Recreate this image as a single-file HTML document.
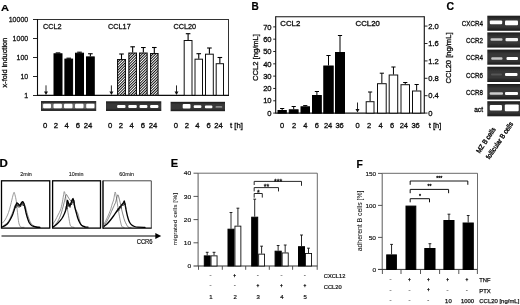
<!DOCTYPE html>
<html><head><meta charset="utf-8"><title>Figure</title>
<style>
html,body{margin:0;padding:0;background:#fff;}
body{width:520px;height:305px;overflow:hidden;}
svg{display:block;font-family:"Liberation Sans",sans-serif;}
</style></head><body>
<svg width="520" height="305" viewBox="0 0 520 305">
<defs>
<pattern id="hatch" width="1.92" height="1.92" patternUnits="userSpaceOnUse" patternTransform="rotate(-45)">
<rect width="1.92" height="1.92" fill="#fff"/><rect width="1.92" height="0.9" fill="#000"/>
</pattern>
<linearGradient id="gg" x1="0" y1="0" x2="0" y2="1"><stop offset="0" stop-color="#1c1c1c"/><stop offset="0.3" stop-color="#383838"/><stop offset="0.7" stop-color="#383838"/><stop offset="1" stop-color="#1c1c1c"/></linearGradient>
<filter id="bl" x="-5%" y="-5%" width="110%" height="110%"><feGaussianBlur stdDeviation="0.35"/></filter>
<filter id="bl2" x="-20%" y="-40%" width="140%" height="180%"><feGaussianBlur stdDeviation="0.55"/></filter>
</defs>
<rect width="520" height="305" fill="#fff"/>
<g filter="url(#bl)">

<text x="1.0" y="10.5" font-size="9.7" text-anchor="start" font-weight="bold" fill="#000" stroke="#000" stroke-width="0.2" textLength="8.0" lengthAdjust="spacingAndGlyphs">A</text>
<line x1="37.5" y1="19.5" x2="229.0" y2="19.5" stroke="#333" stroke-width="1"/>
<line x1="228.5" y1="19.5" x2="228.5" y2="95.3" stroke="#333" stroke-width="1"/>
<line x1="37.5" y1="19.0" x2="37.5" y2="95.3" stroke="#111" stroke-width="1.1"/>
<line x1="37.0" y1="95.3" x2="229.0" y2="95.3" stroke="#111" stroke-width="1.2"/>
<line x1="33.0" y1="19.5" x2="37.5" y2="19.5" stroke="#111" stroke-width="0.9"/>
<text x="28.2" y="22.05" font-size="7.0" text-anchor="end" font-weight="normal" fill="#111" stroke="#111" stroke-width="0.263">10000</text>
<line x1="33.0" y1="38.5" x2="37.5" y2="38.5" stroke="#111" stroke-width="0.9"/>
<text x="28.2" y="41.05" font-size="7.0" text-anchor="end" font-weight="normal" fill="#111" stroke="#111" stroke-width="0.263">1000</text>
<line x1="33.0" y1="57.5" x2="37.5" y2="57.5" stroke="#111" stroke-width="0.9"/>
<text x="28.2" y="60.05" font-size="7.0" text-anchor="end" font-weight="normal" fill="#111" stroke="#111" stroke-width="0.263">100</text>
<line x1="33.0" y1="76.5" x2="37.5" y2="76.5" stroke="#111" stroke-width="0.9"/>
<text x="28.2" y="79.05" font-size="7.0" text-anchor="end" font-weight="normal" fill="#111" stroke="#111" stroke-width="0.263">10</text>
<line x1="33.0" y1="95.5" x2="37.5" y2="95.5" stroke="#111" stroke-width="0.9"/>
<text x="28.2" y="98.05" font-size="7.0" text-anchor="end" font-weight="normal" fill="#111" stroke="#111" stroke-width="0.263">1</text>
<text x="6.9" y="62.6" font-size="7.4" text-anchor="middle" font-weight="normal" fill="#111" stroke="#111" stroke-width="0.305" transform="rotate(-90 6.9 62.6)">x-fold induction</text>
<text x="43.0" y="29.0" font-size="7.3" text-anchor="start" font-weight="normal" fill="#111" stroke="#111" stroke-width="0.294">CCL2</text>
<text x="108.0" y="29.0" font-size="7.3" text-anchor="start" font-weight="normal" fill="#111" stroke="#111" stroke-width="0.294">CCL17</text>
<text x="173.4" y="29.0" font-size="7.3" text-anchor="start" font-weight="normal" fill="#111" stroke="#111" stroke-width="0.294">CCL20</text>
<rect x="54.0" y="53.8" width="8.0" height="41.5" fill="#000" stroke="#000" stroke-width="1"/>
<line x1="58.0" y1="52.9" x2="58.0" y2="53.3" stroke="#000" stroke-width="1.1"/>
<line x1="55.7" y1="52.9" x2="60.3" y2="52.9" stroke="#000" stroke-width="1.1"/>
<rect x="64.9" y="59.1" width="7.699999999999989" height="36.199999999999996" fill="#000" stroke="#000" stroke-width="1"/>
<line x1="68.75" y1="58.2" x2="68.75" y2="58.6" stroke="#000" stroke-width="1.1"/>
<line x1="66.45" y1="58.2" x2="71.05" y2="58.2" stroke="#000" stroke-width="1.1"/>
<rect x="75.5" y="53.2" width="8" height="42.099999999999994" fill="#000" stroke="#000" stroke-width="1"/>
<line x1="79.5" y1="52.2" x2="79.5" y2="52.7" stroke="#000" stroke-width="1.1"/>
<line x1="77.2" y1="52.2" x2="81.8" y2="52.2" stroke="#000" stroke-width="1.1"/>
<rect x="86.5" y="56.9" width="7.75" height="38.4" fill="#000" stroke="#000" stroke-width="1"/>
<line x1="90.375" y1="53.75" x2="90.375" y2="56.4" stroke="#000" stroke-width="1.1"/>
<line x1="88.075" y1="53.75" x2="92.675" y2="53.75" stroke="#000" stroke-width="1.1"/>
<line x1="46" y1="85.4" x2="46" y2="93" stroke="#111" stroke-width="0.9"/>
<polygon points="44,91.5 48,91.5 46,95" fill="#111"/>
</g>
<rect x="117.55" y="59.55" width="7.9" height="35.75" fill="url(#hatch)" stroke="#111" stroke-width="1.1"/>
<g filter="url(#bl)">
<line x1="121.5" y1="54" x2="121.5" y2="59" stroke="#000" stroke-width="1.1"/>
<line x1="119.2" y1="54" x2="123.8" y2="54" stroke="#000" stroke-width="1.1"/>
</g>
<rect x="128.85000000000002" y="53.05" width="7.599999999999989" height="42.25" fill="url(#hatch)" stroke="#111" stroke-width="1.1"/>
<g filter="url(#bl)">
<line x1="132.65" y1="46.8" x2="132.65" y2="52.5" stroke="#000" stroke-width="1.1"/>
<line x1="130.35" y1="46.8" x2="134.95000000000002" y2="46.8" stroke="#000" stroke-width="1.1"/>
</g>
<rect x="139.55" y="53.05" width="7.599999999999989" height="42.25" fill="url(#hatch)" stroke="#111" stroke-width="1.1"/>
<g filter="url(#bl)">
<line x1="143.35" y1="47.5" x2="143.35" y2="52.5" stroke="#000" stroke-width="1.1"/>
<line x1="141.04999999999998" y1="47.5" x2="145.65" y2="47.5" stroke="#000" stroke-width="1.1"/>
</g>
<rect x="150.55" y="53.55" width="7.499999999999995" height="41.75" fill="url(#hatch)" stroke="#111" stroke-width="1.1"/>
<g filter="url(#bl)">
<line x1="154.3" y1="47.5" x2="154.3" y2="53" stroke="#000" stroke-width="1.1"/>
<line x1="152.0" y1="47.5" x2="156.60000000000002" y2="47.5" stroke="#000" stroke-width="1.1"/>
<line x1="111.4" y1="85.4" x2="111.4" y2="93" stroke="#111" stroke-width="0.9"/>
<polygon points="109.4,91.5 113.4,91.5 111.4,95" fill="#111"/>
<rect x="184.2" y="40.5" width="7.800000000000011" height="54.8" fill="#fff" stroke="#111" stroke-width="1"/>
<line x1="188.1" y1="33.7" x2="188.1" y2="40" stroke="#000" stroke-width="1.1"/>
<line x1="185.79999999999998" y1="33.7" x2="190.4" y2="33.7" stroke="#000" stroke-width="1.1"/>
<rect x="195.0" y="59.2" width="7.5" height="36.099999999999994" fill="#fff" stroke="#111" stroke-width="1"/>
<line x1="198.75" y1="53.7" x2="198.75" y2="58.7" stroke="#000" stroke-width="1.1"/>
<line x1="196.45" y1="53.7" x2="201.05" y2="53.7" stroke="#000" stroke-width="1.1"/>
<rect x="205.5" y="54.2" width="7.800000000000011" height="41.099999999999994" fill="#fff" stroke="#111" stroke-width="1"/>
<line x1="209.4" y1="48" x2="209.4" y2="53.7" stroke="#000" stroke-width="1.1"/>
<line x1="207.1" y1="48" x2="211.70000000000002" y2="48" stroke="#000" stroke-width="1.1"/>
<rect x="216.2" y="63.7" width="7.300000000000011" height="31.599999999999994" fill="#fff" stroke="#111" stroke-width="1"/>
<line x1="219.85" y1="57.5" x2="219.85" y2="63.2" stroke="#000" stroke-width="1.1"/>
<line x1="217.54999999999998" y1="57.5" x2="222.15" y2="57.5" stroke="#000" stroke-width="1.1"/>
<line x1="176.5" y1="85.4" x2="176.5" y2="93" stroke="#111" stroke-width="0.9"/>
<polygon points="174.5,91.5 178.5,91.5 176.5,95" fill="#111"/>
<rect x="41" y="101" width="55.2" height="10" fill="#2e2e2e" stroke="none" stroke-width="1"/>
<rect x="41.8" y="103.3" width="53.6" height="5.4" fill="#6c6c6c" filter="url(#bl2)"/>
<rect x="43.1" y="103.8" width="7.899999999999999" height="4.5" rx="1" fill="#fff" filter="url(#bl2)"/>
<rect x="53.5" y="103.8" width="8.399999999999999" height="4.5" rx="1" fill="#fff" filter="url(#bl2)"/>
<rect x="64" y="103.8" width="8.5" height="4.5" rx="1" fill="#fff" filter="url(#bl2)"/>
<rect x="75" y="103.8" width="8.5" height="4.5" rx="1" fill="#fff" filter="url(#bl2)"/>
<rect x="86.2" y="103.8" width="8.200000000000003" height="4.5" rx="1" fill="#fff" filter="url(#bl2)"/>
<rect x="106" y="101.3" width="55.30000000000001" height="9.700000000000003" fill="url(#gg)" stroke="none" stroke-width="1"/>
<rect x="117.1" y="104.9" width="8.400000000000006" height="3.0999999999999943" rx="1" fill="#fff" filter="url(#bl2)"/>
<rect x="128.3" y="104.9" width="8.5" height="3.0999999999999943" rx="1" fill="#fff" filter="url(#bl2)"/>
<rect x="139.5" y="105.1" width="7.900000000000006" height="2.9000000000000057" rx="1" fill="#fff" filter="url(#bl2)"/>
<rect x="150.1" y="104.9" width="8.300000000000011" height="3.0999999999999943" rx="1" fill="#fff" filter="url(#bl2)"/>
<rect x="170.6" y="101.8" width="54.400000000000006" height="9.400000000000006" fill="url(#gg)" stroke="none" stroke-width="1"/>
<rect x="182.7" y="104.0" width="7.800000000000011" height="4.5" rx="1" fill="#fff" filter="url(#bl2)"/>
<rect x="193.7" y="105.2" width="7.700000000000017" height="2.8999999999999915" rx="1" fill="#fff" filter="url(#bl2)"/>
<rect x="204.9" y="105.4" width="7.5" height="2.8999999999999915" rx="1" fill="#fff" filter="url(#bl2)"/>
<rect x="215.5" y="106.0" width="6.800000000000011" height="1.7999999999999972" rx="1" fill="#888" filter="url(#bl2)"/>
<text x="45.1" y="127.8" font-size="7.7" text-anchor="middle" font-weight="normal" fill="#111" stroke="#111" stroke-width="0.336">0</text>
<text x="56" y="127.8" font-size="7.7" text-anchor="middle" font-weight="normal" fill="#111" stroke="#111" stroke-width="0.336">2</text>
<text x="66.7" y="127.8" font-size="7.7" text-anchor="middle" font-weight="normal" fill="#111" stroke="#111" stroke-width="0.336">4</text>
<text x="78" y="127.8" font-size="7.7" text-anchor="middle" font-weight="normal" fill="#111" stroke="#111" stroke-width="0.336">6</text>
<text x="88" y="127.8" font-size="7.7" text-anchor="middle" font-weight="normal" fill="#111" stroke="#111" stroke-width="0.336">24</text>
<text x="110.1" y="127.8" font-size="7.7" text-anchor="middle" font-weight="normal" fill="#111" stroke="#111" stroke-width="0.336">0</text>
<text x="121" y="127.8" font-size="7.7" text-anchor="middle" font-weight="normal" fill="#111" stroke="#111" stroke-width="0.336">2</text>
<text x="131.7" y="127.8" font-size="7.7" text-anchor="middle" font-weight="normal" fill="#111" stroke="#111" stroke-width="0.336">4</text>
<text x="143" y="127.8" font-size="7.7" text-anchor="middle" font-weight="normal" fill="#111" stroke="#111" stroke-width="0.336">6</text>
<text x="153" y="127.8" font-size="7.7" text-anchor="middle" font-weight="normal" fill="#111" stroke="#111" stroke-width="0.336">24</text>
<text x="175.9" y="127.8" font-size="7.7" text-anchor="middle" font-weight="normal" fill="#111" stroke="#111" stroke-width="0.336">0</text>
<text x="186.9" y="127.8" font-size="7.7" text-anchor="middle" font-weight="normal" fill="#111" stroke="#111" stroke-width="0.336">2</text>
<text x="197.5" y="127.8" font-size="7.7" text-anchor="middle" font-weight="normal" fill="#111" stroke="#111" stroke-width="0.336">4</text>
<text x="208.6" y="127.8" font-size="7.7" text-anchor="middle" font-weight="normal" fill="#111" stroke="#111" stroke-width="0.336">6</text>
<text x="218.6" y="127.8" font-size="7.7" text-anchor="middle" font-weight="normal" fill="#111" stroke="#111" stroke-width="0.336">24</text>
<text x="230" y="127.8" font-size="7.7" text-anchor="start" font-weight="normal" fill="#111" stroke="#111" stroke-width="0.336">t [h]</text>
<text x="251.6" y="10.2" font-size="10" text-anchor="start" font-weight="bold" fill="#000" stroke="#000" stroke-width="0.2">B</text>
<line x1="275.7" y1="16.7" x2="424.3" y2="16.7" stroke="#111" stroke-width="1.1"/>
<line x1="275.7" y1="16.2" x2="275.7" y2="113.1" stroke="#111" stroke-width="1.1"/>
<line x1="424.3" y1="16.2" x2="424.3" y2="113.1" stroke="#111" stroke-width="1.1"/>
<line x1="275.2" y1="113.1" x2="424.8" y2="113.1" stroke="#111" stroke-width="1.2"/>
<line x1="273.2" y1="113.1" x2="275.7" y2="113.1" stroke="#111" stroke-width="0.9"/>
<text x="271.6" y="115.8" font-size="7.6" text-anchor="end" font-weight="normal" fill="#111" stroke="#111" stroke-width="0.325">0</text>
<line x1="273.2" y1="100.78" x2="275.7" y2="100.78" stroke="#111" stroke-width="0.9"/>
<text x="271.6" y="103.48" font-size="7.6" text-anchor="end" font-weight="normal" fill="#111" stroke="#111" stroke-width="0.325">10</text>
<line x1="273.2" y1="88.46" x2="275.7" y2="88.46" stroke="#111" stroke-width="0.9"/>
<text x="271.6" y="91.16" font-size="7.6" text-anchor="end" font-weight="normal" fill="#111" stroke="#111" stroke-width="0.325">20</text>
<line x1="273.2" y1="76.13999999999999" x2="275.7" y2="76.13999999999999" stroke="#111" stroke-width="0.9"/>
<text x="271.6" y="78.83999999999999" font-size="7.6" text-anchor="end" font-weight="normal" fill="#111" stroke="#111" stroke-width="0.325">30</text>
<line x1="273.2" y1="63.81999999999999" x2="275.7" y2="63.81999999999999" stroke="#111" stroke-width="0.9"/>
<text x="271.6" y="66.52" font-size="7.6" text-anchor="end" font-weight="normal" fill="#111" stroke="#111" stroke-width="0.325">40</text>
<line x1="273.2" y1="51.49999999999999" x2="275.7" y2="51.49999999999999" stroke="#111" stroke-width="0.9"/>
<text x="271.6" y="54.199999999999996" font-size="7.6" text-anchor="end" font-weight="normal" fill="#111" stroke="#111" stroke-width="0.325">50</text>
<line x1="273.2" y1="39.17999999999999" x2="275.7" y2="39.17999999999999" stroke="#111" stroke-width="0.9"/>
<text x="271.6" y="41.879999999999995" font-size="7.6" text-anchor="end" font-weight="normal" fill="#111" stroke="#111" stroke-width="0.325">60</text>
<line x1="273.2" y1="26.859999999999985" x2="275.7" y2="26.859999999999985" stroke="#111" stroke-width="0.9"/>
<text x="271.6" y="29.559999999999985" font-size="7.6" text-anchor="end" font-weight="normal" fill="#111" stroke="#111" stroke-width="0.325">70</text>
<line x1="424.3" y1="113.1" x2="427.5" y2="113.1" stroke="#111" stroke-width="0.9"/>
<text x="428.2" y="115.8" font-size="7.6" text-anchor="start" font-weight="normal" fill="#111" stroke="#111" stroke-width="0.325">0</text>
<line x1="424.3" y1="95.69999999999999" x2="427.5" y2="95.69999999999999" stroke="#111" stroke-width="0.9"/>
<text x="428.2" y="98.39999999999999" font-size="7.6" text-anchor="start" font-weight="normal" fill="#111" stroke="#111" stroke-width="0.325">0.4</text>
<line x1="424.3" y1="78.3" x2="427.5" y2="78.3" stroke="#111" stroke-width="0.9"/>
<text x="428.2" y="81.0" font-size="7.6" text-anchor="start" font-weight="normal" fill="#111" stroke="#111" stroke-width="0.325">0.8</text>
<line x1="424.3" y1="60.9" x2="427.5" y2="60.9" stroke="#111" stroke-width="0.9"/>
<text x="428.2" y="63.6" font-size="7.6" text-anchor="start" font-weight="normal" fill="#111" stroke="#111" stroke-width="0.325">1.2</text>
<line x1="424.3" y1="43.5" x2="427.5" y2="43.5" stroke="#111" stroke-width="0.9"/>
<text x="428.2" y="46.2" font-size="7.6" text-anchor="start" font-weight="normal" fill="#111" stroke="#111" stroke-width="0.325">1.6</text>
<line x1="424.3" y1="26.099999999999994" x2="427.5" y2="26.099999999999994" stroke="#111" stroke-width="0.9"/>
<text x="428.2" y="28.799999999999994" font-size="7.6" text-anchor="start" font-weight="normal" fill="#111" stroke="#111" stroke-width="0.325">2.0</text>
<text x="257.7" y="57.5" font-size="7.6" text-anchor="middle" font-weight="normal" fill="#111" stroke="#111" stroke-width="0.325" transform="rotate(-90 257.7 57.5)">CCL2 [ng/mL]</text>
<text x="451.2" y="58" font-size="7.6" text-anchor="middle" font-weight="normal" fill="#111" stroke="#111" stroke-width="0.325" transform="rotate(-90 451.2 58)">CCL20 [ng/mL]</text>
<text x="280.3" y="26.3" font-size="7.8" text-anchor="start" font-weight="normal" fill="#111" stroke="#111" stroke-width="0.346">CCL2</text>
<text x="355.6" y="26.3" font-size="7.8" text-anchor="start" font-weight="normal" fill="#111" stroke="#111" stroke-width="0.346">CCL20</text>
<rect x="278.0" y="110.5" width="8.300000000000011" height="2.5999999999999943" fill="#000" stroke="#000" stroke-width="1"/>
<line x1="282.15" y1="108.5" x2="282.15" y2="110" stroke="#000" stroke-width="1.0"/>
<line x1="280.04999999999995" y1="108.5" x2="284.25" y2="108.5" stroke="#000" stroke-width="1.0"/>
<rect x="289.3" y="109.8" width="8.800000000000011" height="3.299999999999997" fill="#000" stroke="#000" stroke-width="1"/>
<line x1="293.70000000000005" y1="106.5" x2="293.70000000000005" y2="109.3" stroke="#000" stroke-width="1.0"/>
<line x1="291.6" y1="106.5" x2="295.80000000000007" y2="106.5" stroke="#000" stroke-width="1.0"/>
<rect x="301.0" y="106.8" width="8.5" height="6.299999999999997" fill="#000" stroke="#000" stroke-width="1"/>
<line x1="305.25" y1="105.6" x2="305.25" y2="106.3" stroke="#000" stroke-width="1.0"/>
<line x1="303.15" y1="105.6" x2="307.35" y2="105.6" stroke="#000" stroke-width="1.0"/>
<rect x="312.5" y="95.5" width="8.800000000000011" height="17.599999999999994" fill="#000" stroke="#000" stroke-width="1"/>
<line x1="316.9" y1="91.5" x2="316.9" y2="95" stroke="#000" stroke-width="1.0"/>
<line x1="314.79999999999995" y1="91.5" x2="319.0" y2="91.5" stroke="#000" stroke-width="1.0"/>
<rect x="323.8" y="66.0" width="9.399999999999977" height="47.099999999999994" fill="#000" stroke="#000" stroke-width="1"/>
<line x1="328.5" y1="55.5" x2="328.5" y2="65.5" stroke="#000" stroke-width="1.0"/>
<line x1="326.4" y1="55.5" x2="330.6" y2="55.5" stroke="#000" stroke-width="1.0"/>
<rect x="335.5" y="52.5" width="9" height="60.599999999999994" fill="#000" stroke="#000" stroke-width="1"/>
<line x1="340.0" y1="35.5" x2="340.0" y2="52" stroke="#000" stroke-width="1.0"/>
<line x1="337.9" y1="35.5" x2="342.1" y2="35.5" stroke="#000" stroke-width="1.0"/>
<line x1="357.5" y1="102.5" x2="357.5" y2="110.5" stroke="#111" stroke-width="0.9"/>
<polygon points="355.5,109.0 359.5,109.0 357.5,112.5" fill="#111"/>
<rect x="366.2" y="101.7" width="7.800000000000011" height="11.399999999999991" fill="#fff" stroke="#111" stroke-width="1"/>
<line x1="370.1" y1="92" x2="370.1" y2="101.2" stroke="#000" stroke-width="1.0"/>
<line x1="368.0" y1="92" x2="372.20000000000005" y2="92" stroke="#000" stroke-width="1.0"/>
<rect x="377.5" y="83.7" width="8.699999999999989" height="29.39999999999999" fill="#fff" stroke="#111" stroke-width="1"/>
<line x1="381.85" y1="73.2" x2="381.85" y2="83.2" stroke="#000" stroke-width="1.0"/>
<line x1="379.75" y1="73.2" x2="383.95000000000005" y2="73.2" stroke="#000" stroke-width="1.0"/>
<rect x="389.2" y="75.0" width="8.5" height="38.099999999999994" fill="#fff" stroke="#111" stroke-width="1"/>
<line x1="393.45" y1="67" x2="393.45" y2="74.5" stroke="#000" stroke-width="1.0"/>
<line x1="391.34999999999997" y1="67" x2="395.55" y2="67" stroke="#000" stroke-width="1.0"/>
<rect x="401.0" y="84.7" width="8.5" height="28.39999999999999" fill="#fff" stroke="#111" stroke-width="1"/>
<line x1="405.25" y1="82.5" x2="405.25" y2="84.2" stroke="#000" stroke-width="1.0"/>
<line x1="403.15" y1="82.5" x2="407.35" y2="82.5" stroke="#000" stroke-width="1.0"/>
<rect x="412.5" y="91.0" width="8.300000000000011" height="22.099999999999994" fill="#fff" stroke="#111" stroke-width="1"/>
<line x1="416.65" y1="84.5" x2="416.65" y2="90.5" stroke="#000" stroke-width="1.0"/>
<line x1="414.54999999999995" y1="84.5" x2="418.75" y2="84.5" stroke="#000" stroke-width="1.0"/>
<text x="282.2" y="127.6" font-size="7.5" text-anchor="middle" font-weight="normal" fill="#111" stroke="#111" stroke-width="0.315">0</text>
<text x="294" y="127.6" font-size="7.5" text-anchor="middle" font-weight="normal" fill="#111" stroke="#111" stroke-width="0.315">2</text>
<text x="305.3" y="127.6" font-size="7.5" text-anchor="middle" font-weight="normal" fill="#111" stroke="#111" stroke-width="0.315">4</text>
<text x="316.9" y="127.6" font-size="7.5" text-anchor="middle" font-weight="normal" fill="#111" stroke="#111" stroke-width="0.315">6</text>
<text x="328.1" y="127.6" font-size="7.5" text-anchor="middle" font-weight="normal" fill="#111" stroke="#111" stroke-width="0.315">24</text>
<text x="339.6" y="127.6" font-size="7.5" text-anchor="middle" font-weight="normal" fill="#111" stroke="#111" stroke-width="0.315">36</text>
<text x="357.7" y="127.6" font-size="7.5" text-anchor="middle" font-weight="normal" fill="#111" stroke="#111" stroke-width="0.315">0</text>
<text x="369.2" y="127.6" font-size="7.5" text-anchor="middle" font-weight="normal" fill="#111" stroke="#111" stroke-width="0.315">2</text>
<text x="380.6" y="127.6" font-size="7.5" text-anchor="middle" font-weight="normal" fill="#111" stroke="#111" stroke-width="0.315">4</text>
<text x="392.2" y="127.6" font-size="7.5" text-anchor="middle" font-weight="normal" fill="#111" stroke="#111" stroke-width="0.315">6</text>
<text x="403.8" y="127.6" font-size="7.5" text-anchor="middle" font-weight="normal" fill="#111" stroke="#111" stroke-width="0.315">24</text>
<text x="415.6" y="127.6" font-size="7.5" text-anchor="middle" font-weight="normal" fill="#111" stroke="#111" stroke-width="0.315">36</text>
<text x="428.8" y="127.6" font-size="7.5" text-anchor="start" font-weight="normal" fill="#111" stroke="#111" stroke-width="0.315">t [h]</text>
<text x="446.4" y="10.2" font-size="10" text-anchor="start" font-weight="bold" fill="#000" stroke="#000" stroke-width="0.2" textLength="7.6" lengthAdjust="spacingAndGlyphs">C</text>
<rect x="487.3" y="15.7" width="33" height="15.100000000000001" fill="url(#gg)" stroke="none" stroke-width="1"/>
<text x="483.0" y="26.45" font-size="6.7" text-anchor="end" font-weight="normal" fill="#111" stroke="#111" stroke-width="0.3" textLength="21.2" lengthAdjust="spacingAndGlyphs">CXCR4</text>
<rect x="489.8" y="20.6" width="12.399999999999977" height="3.599999999999998" rx="1" fill="#fff" filter="url(#bl2)"/>
<rect x="505" y="20.5" width="13" height="4.699999999999999" rx="1" fill="#fff" filter="url(#bl2)"/>
<rect x="487.3" y="32.4" width="33" height="15.200000000000003" fill="url(#gg)" stroke="none" stroke-width="1"/>
<text x="483.0" y="43.2" font-size="6.7" text-anchor="end" font-weight="normal" fill="#111" stroke="#111" stroke-width="0.3" textLength="17.0" lengthAdjust="spacingAndGlyphs">CCR2</text>
<rect x="490.5" y="38.2" width="12.0" height="2.5999999999999943" rx="1" fill="#c8c8c8" filter="url(#bl2)"/>
<rect x="505.5" y="38.0" width="12.5" height="3.200000000000003" rx="1" fill="#f4f4f4" filter="url(#bl2)"/>
<rect x="487.3" y="49.6" width="33" height="15.100000000000001" fill="url(#gg)" stroke="none" stroke-width="1"/>
<text x="483.0" y="60.35000000000001" font-size="6.7" text-anchor="end" font-weight="normal" fill="#111" stroke="#111" stroke-width="0.3" textLength="17.0" lengthAdjust="spacingAndGlyphs">CCR4</text>
<rect x="491.2" y="57.3" width="11.300000000000011" height="2.5" rx="1" fill="#c4c4c4" filter="url(#bl2)"/>
<rect x="506.5" y="57.0" width="11.5" height="3.0" rx="1" fill="#fff" filter="url(#bl2)"/>
<rect x="487.3" y="66.7" width="33" height="15.299999999999997" fill="url(#gg)" stroke="none" stroke-width="1"/>
<text x="483.0" y="77.55" font-size="6.7" text-anchor="end" font-weight="normal" fill="#111" stroke="#111" stroke-width="0.3" textLength="17.0" lengthAdjust="spacingAndGlyphs">CCR6</text>
<rect x="491" y="73.6" width="11" height="1.8000000000000114" rx="1" fill="#555" filter="url(#bl2)"/>
<rect x="505" y="73.0" width="12.5" height="3.0" rx="1" fill="#fff" filter="url(#bl2)"/>
<rect x="487.3" y="84" width="33" height="15.5" fill="url(#gg)" stroke="none" stroke-width="1"/>
<text x="483.0" y="94.95" font-size="6.7" text-anchor="end" font-weight="normal" fill="#111" stroke="#111" stroke-width="0.3" textLength="17.0" lengthAdjust="spacingAndGlyphs">CCR8</text>
<rect x="489.6" y="92.2" width="13.399999999999977" height="2.5999999999999943" rx="1" fill="#ccc" filter="url(#bl2)"/>
<rect x="505" y="91.9" width="13" height="3.1999999999999886" rx="1" fill="#fff" filter="url(#bl2)"/>
<rect x="487.3" y="101.2" width="33" height="15.099999999999994" fill="url(#gg)" stroke="none" stroke-width="1"/>
<text x="483.0" y="111.95" font-size="6.7" text-anchor="end" font-weight="normal" fill="#111" stroke="#111" stroke-width="0.3" textLength="8.8" lengthAdjust="spacingAndGlyphs">act</text>
<rect x="489.8" y="105.0" width="12.199999999999989" height="5.400000000000006" rx="1" fill="#fff" filter="url(#bl2)"/>
<rect x="504.8" y="104.5" width="13.900000000000034" height="6.799999999999997" rx="1" fill="#fff" filter="url(#bl2)"/>
<text x="496.0" y="129.5" font-size="7.0" text-anchor="end" font-weight="normal" fill="#111" stroke="#111" stroke-width="0.4" textLength="29.2" lengthAdjust="spacingAndGlyphs" transform="rotate(-56 496.0 129.5)">MZ B cells</text>
<text x="513.6" y="124.0" font-size="7.0" text-anchor="end" font-weight="normal" fill="#111" stroke="#111" stroke-width="0.4" textLength="43" lengthAdjust="spacingAndGlyphs" transform="rotate(-56 513.6 124.0)">follicular B cells</text>
<text x="-0.4" y="166.9" font-size="10.1" text-anchor="start" font-weight="bold" fill="#000" stroke="#000" stroke-width="0.2" textLength="8.3" lengthAdjust="spacingAndGlyphs">D</text>
<path d="M2.50,223.00 C2.88,222.55 4.25,221.20 5.00,220.00 C5.75,218.80 6.84,216.55 7.50,215.00 C8.16,213.45 8.84,211.57 9.40,209.70 C9.96,207.82 10.74,204.56 11.25,202.50 C11.76,200.44 12.39,197.53 12.80,196.00 C13.21,194.47 13.67,192.45 14.00,192.30 C14.33,192.15 14.66,193.69 15.00,195.00 C15.34,196.31 15.88,198.38 16.25,201.00 C16.62,203.62 17.12,209.28 17.50,212.50 C17.88,215.72 18.29,220.34 18.75,222.50 C19.21,224.66 19.81,226.18 20.60,226.90 C21.39,227.62 23.49,227.24 24.00,227.30" fill="none" stroke="#777" stroke-width="0.75" stroke-linejoin="round" stroke-linecap="round"/>
<path d="M3.00,226.00 C3.75,225.40 6.65,223.80 8.00,222.00 C9.35,220.20 10.95,216.40 12.00,214.00 C13.05,211.60 14.18,207.57 15.00,206.00 C15.82,204.43 16.82,203.50 17.50,203.50 C18.18,203.50 18.90,206.00 19.50,206.00 C20.10,206.00 20.93,204.10 21.50,203.50 C22.07,202.90 22.70,201.47 23.30,202.00 C23.90,202.53 24.87,205.12 25.50,207.00 C26.13,208.88 26.82,212.32 27.50,214.50 C28.18,216.68 29.18,219.85 30.00,221.50 C30.82,223.15 31.80,224.65 33.00,225.50 C34.20,226.35 37.25,226.94 38.00,227.20" fill="none" stroke="#444" stroke-width="0.65" stroke-linejoin="round" stroke-linecap="round"/>
<path d="M2.50,226.90 C2.88,226.71 4.25,226.07 5.00,225.60 C5.75,225.13 6.75,224.59 7.50,223.75 C8.25,222.91 9.25,221.31 10.00,220.00 C10.75,218.69 11.87,216.50 12.50,215.00 C13.13,213.50 13.73,211.35 14.20,210.00 C14.66,208.65 15.20,207.06 15.60,206.00 C16.00,204.94 16.46,203.17 16.90,202.90 C17.33,202.63 18.04,203.82 18.50,204.20 C18.96,204.57 19.58,205.58 20.00,205.40 C20.42,205.22 20.89,203.57 21.30,203.00 C21.71,202.43 22.29,201.45 22.70,201.60 C23.11,201.75 23.66,203.04 24.00,204.00 C24.34,204.96 24.66,206.54 25.00,208.00 C25.34,209.46 25.83,212.10 26.25,213.75 C26.67,215.40 27.33,217.61 27.80,219.00 C28.27,220.39 28.77,221.98 29.40,223.00 C30.03,224.02 31.01,225.20 32.00,225.80 C32.99,226.40 34.80,226.78 36.00,227.00 C37.20,227.22 39.40,227.25 40.00,227.30" fill="none" stroke="#000" stroke-width="1.3" stroke-linejoin="round" stroke-linecap="round"/>
<polyline points="14.5,209 15.2,205.5 15.9,208 16.6,203.5 17.4,206.5 18.2,203.8 19,207.5 19.8,204.5 20.6,207 21.3,203 22,205.5 22.8,202.2 23.5,206 24.2,204.5 24.8,208.5" fill="none" stroke="#111" stroke-width="0.7" stroke-linejoin="round"/>
<rect x="1.5" y="180.8" width="48.25" height="47.29999999999998" fill="none" stroke="#000" stroke-width="1.3"/>
<text x="26" y="176.2" font-size="5.4" text-anchor="middle" font-weight="normal" fill="#111" stroke="#111" stroke-width="0.095">2min</text>
<path d="M53.00,224.00 C53.38,223.40 54.75,221.35 55.50,220.00 C56.25,218.65 57.25,216.50 58.00,215.00 C58.75,213.50 59.87,211.80 60.50,210.00 C61.13,208.20 61.77,205.10 62.20,203.00 C62.64,200.90 63.09,197.71 63.40,196.00 C63.71,194.29 63.97,191.75 64.25,191.60 C64.53,191.45 64.96,193.29 65.30,195.00 C65.64,196.71 66.09,200.38 66.50,203.00 C66.91,205.62 67.49,209.39 68.00,212.50 C68.51,215.61 69.44,221.65 69.90,223.75 C70.37,225.85 70.48,225.97 71.10,226.50 C71.71,227.03 73.56,227.18 74.00,227.30" fill="none" stroke="#777" stroke-width="0.75" stroke-linejoin="round" stroke-linecap="round"/>
<path d="M54.00,226.00 C54.60,225.25 56.95,222.80 58.00,221.00 C59.05,219.20 60.17,216.40 61.00,214.00 C61.83,211.60 62.83,207.55 63.50,205.00 C64.17,202.45 65.05,198.57 65.50,197.00 C65.95,195.43 66.12,194.50 66.50,194.50 C66.88,194.50 67.47,196.18 68.00,197.00 C68.53,197.82 69.40,199.25 70.00,200.00 C70.60,200.75 71.40,201.25 72.00,202.00 C72.60,202.75 73.40,203.80 74.00,205.00 C74.60,206.20 75.40,208.65 76.00,210.00 C76.60,211.35 77.47,212.50 78.00,214.00 C78.53,215.50 78.97,218.35 79.50,220.00 C80.03,221.65 80.67,223.92 81.50,225.00 C82.33,226.08 84.47,226.87 85.00,227.20" fill="none" stroke="#444" stroke-width="0.65" stroke-linejoin="round" stroke-linecap="round"/>
<path d="M53.00,227.00 C53.19,226.89 53.50,226.85 54.25,226.25 C55.00,225.65 56.88,224.12 58.00,223.00 C59.12,221.88 60.77,220.18 61.75,218.75 C62.73,217.32 63.86,214.96 64.50,213.50 C65.14,212.04 65.64,210.43 66.00,209.00 C66.36,207.57 66.69,205.29 66.90,204.00 C67.11,202.71 67.16,200.55 67.40,200.40 C67.64,200.25 68.14,202.16 68.50,203.00 C68.86,203.84 69.35,206.22 69.80,206.00 C70.25,205.78 71.02,202.62 71.50,201.50 C71.98,200.38 72.62,198.43 73.00,198.50 C73.38,198.57 73.72,200.65 74.00,202.00 C74.28,203.35 74.53,205.78 74.90,207.50 C75.28,209.22 76.03,211.81 76.50,213.50 C76.97,215.19 77.50,217.35 78.00,218.75 C78.50,220.15 79.24,221.77 79.80,222.80 C80.36,223.83 80.97,225.00 81.75,225.60 C82.53,226.20 84.06,226.56 85.00,226.80 C85.94,227.04 87.55,227.14 88.00,227.20" fill="none" stroke="#000" stroke-width="1.3" stroke-linejoin="round" stroke-linecap="round"/>
<polyline points="65.5,211 66.3,206 67,209 67.6,202 68.4,206.5 69.2,203.5 70,207.5 70.8,203 71.6,205 72.4,200 73.2,203 74,200.5 74.6,205.5" fill="none" stroke="#111" stroke-width="0.7" stroke-linejoin="round"/>
<rect x="52.6" y="180.8" width="47.9" height="47.29999999999998" fill="none" stroke="#000" stroke-width="1.3"/>
<text x="76.2" y="176.2" font-size="5.4" text-anchor="middle" font-weight="normal" fill="#111" stroke="#111" stroke-width="0.095">10min</text>
<path d="M104.00,224.00 C104.22,223.59 104.90,222.45 105.50,221.25 C106.10,220.05 107.25,217.69 108.00,216.00 C108.75,214.31 109.87,211.80 110.50,210.00 C111.13,208.20 111.73,205.50 112.20,204.00 C112.67,202.50 113.25,201.35 113.60,200.00 C113.94,198.65 114.25,196.20 114.50,195.00 C114.75,193.80 115.00,191.85 115.25,192.00 C115.50,192.15 115.94,194.65 116.20,196.00 C116.46,197.35 116.73,199.28 117.00,201.00 C117.27,202.72 117.56,204.84 118.00,207.50 C118.44,210.16 119.34,215.94 119.90,218.75 C120.46,221.56 121.14,224.97 121.75,226.25 C122.36,227.53 123.66,227.14 124.00,227.30" fill="none" stroke="#777" stroke-width="0.75" stroke-linejoin="round" stroke-linecap="round"/>
<path d="M104.00,226.00 C104.45,225.25 106.10,222.65 107.00,221.00 C107.90,219.35 109.10,216.95 110.00,215.00 C110.90,213.05 112.17,209.88 113.00,208.00 C113.83,206.12 114.90,204.15 115.50,202.50 C116.10,200.85 116.62,198.16 117.00,197.00 C117.38,195.84 117.70,194.60 118.00,194.75 C118.30,194.90 118.62,196.61 119.00,198.00 C119.38,199.39 120.09,202.20 120.50,204.00 C120.91,205.80 121.33,208.20 121.75,210.00 C122.17,211.80 122.83,214.31 123.30,216.00 C123.77,217.69 124.20,219.62 124.90,221.25 C125.61,222.88 127.09,225.99 128.00,226.90 C128.91,227.81 130.55,227.24 131.00,227.30" fill="none" stroke="#444" stroke-width="0.65" stroke-linejoin="round" stroke-linecap="round"/>
<path d="M104.25,226.25 C104.66,225.91 106.06,224.94 107.00,224.00 C107.94,223.06 109.53,221.20 110.50,220.00 C111.47,218.80 112.56,217.31 113.50,216.00 C114.44,214.69 115.78,212.60 116.75,211.25 C117.72,209.90 118.97,208.31 120.00,207.00 C121.03,205.69 122.96,203.40 123.60,202.50 C124.24,201.60 124.04,200.78 124.25,201.00 C124.46,201.22 124.72,202.65 125.00,204.00 C125.28,205.35 125.75,208.28 126.10,210.00 C126.44,211.72 126.92,214.00 127.30,215.50 C127.67,217.00 128.19,218.88 128.60,220.00 C129.00,221.12 129.53,222.25 130.00,223.00 C130.47,223.75 131.07,224.47 131.75,225.00 C132.43,225.53 133.56,226.17 134.50,226.50 C135.44,226.83 136.43,227.06 138.00,227.20 C139.57,227.33 143.95,227.37 145.00,227.40" fill="none" stroke="#000" stroke-width="1.3" stroke-linejoin="round" stroke-linecap="round"/>
<polyline points="117,212 118,208.5 119,210.5 120,206 121,208.5 122,204 123,206 123.8,201.8 124.6,205 125.3,203.5 125.9,209" fill="none" stroke="#111" stroke-width="0.7" stroke-linejoin="round"/>
<line x1="103.0" y1="180.4" x2="103.0" y2="228.75" stroke="#000" stroke-width="1.4"/>
<line x1="103.0" y1="228.1" x2="151.70000000000002" y2="228.1" stroke="#000" stroke-width="1.3"/>
<line x1="103.0" y1="180.8" x2="151.3" y2="180.8" stroke="#333" stroke-width="0.9"/>
<line x1="151.3" y1="180.8" x2="151.3" y2="228.1" stroke="#333" stroke-width="0.9"/>
<text x="126.7" y="176.2" font-size="5.4" text-anchor="middle" font-weight="normal" fill="#111" stroke="#111" stroke-width="0.095">60min</text>
<line x1="1.5" y1="236.0" x2="156" y2="236.0" stroke="#000" stroke-width="1.2"/>
<polygon points="155.3,233 161.2,236 155.3,239" fill="#000"/>
<text x="136.7" y="243.8" font-size="6.4" text-anchor="start" font-weight="normal" fill="#111" stroke="#111" stroke-width="0.2" textLength="15.9" lengthAdjust="spacingAndGlyphs">CCR6</text>
<text x="170.8" y="167.4" font-size="10.3" text-anchor="start" font-weight="bold" fill="#000" stroke="#000" stroke-width="0.2" textLength="7.4" lengthAdjust="spacingAndGlyphs">E</text>
<line x1="198.1" y1="173.2" x2="317.3" y2="173.2" stroke="#5a5a5a" stroke-width="0.9"/>
<line x1="317.3" y1="173.2" x2="317.3" y2="266.0" stroke="#5a5a5a" stroke-width="0.9"/>
<line x1="198.1" y1="173.2" x2="198.1" y2="266.0" stroke="#5a5a5a" stroke-width="1.0"/>
<line x1="193.5" y1="266.0" x2="317.3" y2="266.0" stroke="#333" stroke-width="1.0"/>
<text x="191.2" y="268.2" font-size="6.0" text-anchor="end" font-weight="normal" fill="#111" stroke="#111" stroke-width="0.158" textLength="3.7" lengthAdjust="spacingAndGlyphs">0</text>
<line x1="193.5" y1="242.8" x2="198.1" y2="242.8" stroke="#444" stroke-width="0.9"/>
<text x="191.2" y="245.0" font-size="6.0" text-anchor="end" font-weight="normal" fill="#111" stroke="#111" stroke-width="0.158" textLength="7.4" lengthAdjust="spacingAndGlyphs">10</text>
<line x1="193.5" y1="219.6" x2="198.1" y2="219.6" stroke="#444" stroke-width="0.9"/>
<text x="191.2" y="221.79999999999998" font-size="6.0" text-anchor="end" font-weight="normal" fill="#111" stroke="#111" stroke-width="0.158" textLength="7.4" lengthAdjust="spacingAndGlyphs">20</text>
<line x1="193.5" y1="196.4" x2="198.1" y2="196.4" stroke="#444" stroke-width="0.9"/>
<text x="191.2" y="198.6" font-size="6.0" text-anchor="end" font-weight="normal" fill="#111" stroke="#111" stroke-width="0.158" textLength="7.4" lengthAdjust="spacingAndGlyphs">30</text>
<line x1="193.5" y1="173.2" x2="198.1" y2="173.2" stroke="#444" stroke-width="0.9"/>
<text x="191.2" y="175.39999999999998" font-size="6.0" text-anchor="end" font-weight="normal" fill="#111" stroke="#111" stroke-width="0.158" textLength="7.4" lengthAdjust="spacingAndGlyphs">40</text>
<line x1="198.5" y1="266.0" x2="198.5" y2="269.8" stroke="#444" stroke-width="0.9"/>
<line x1="222.3" y1="266.0" x2="222.3" y2="269.8" stroke="#444" stroke-width="0.9"/>
<line x1="245.7" y1="266.0" x2="245.7" y2="269.8" stroke="#444" stroke-width="0.9"/>
<line x1="269.3" y1="266.0" x2="269.3" y2="269.8" stroke="#444" stroke-width="0.9"/>
<line x1="292.6" y1="266.0" x2="292.6" y2="269.8" stroke="#444" stroke-width="0.9"/>
<line x1="317.2" y1="266.0" x2="317.2" y2="269.8" stroke="#444" stroke-width="0.9"/>
<text x="177.4" y="219.25" font-size="6.2" text-anchor="middle" font-weight="normal" fill="#111" stroke="#111" stroke-width="0.05" textLength="52.5" lengthAdjust="spacingAndGlyphs" transform="rotate(-90 177.4 219.25)">migrated cells [%]</text>
<rect x="204.3" y="255.9" width="5.799999999999983" height="10.099999999999994" fill="#000" stroke="#000" stroke-width="1"/>
<rect x="211.04999999999998" y="255.85" width="6.000000000000005" height="10.149999999999995" fill="#fff" stroke="#111" stroke-width="0.9"/>
<line x1="207.2" y1="252.3" x2="207.2" y2="255.4" stroke="#111" stroke-width="0.9"/>
<line x1="205.79999999999998" y1="252.3" x2="208.6" y2="252.3" stroke="#111" stroke-width="0.9"/>
<line x1="214.05" y1="252.3" x2="214.05" y2="255.4" stroke="#111" stroke-width="0.9"/>
<line x1="212.65" y1="252.3" x2="215.45000000000002" y2="252.3" stroke="#111" stroke-width="0.9"/>
<rect x="228.0" y="229.2" width="6.0" height="36.80000000000001" fill="#000" stroke="#000" stroke-width="1"/>
<rect x="234.95" y="226.14999999999998" width="5.900000000000011" height="39.85000000000001" fill="#fff" stroke="#111" stroke-width="0.9"/>
<line x1="231.0" y1="212.5" x2="231.0" y2="228.7" stroke="#111" stroke-width="0.9"/>
<line x1="229.6" y1="212.5" x2="232.4" y2="212.5" stroke="#111" stroke-width="0.9"/>
<line x1="237.9" y1="208.2" x2="237.9" y2="225.7" stroke="#111" stroke-width="0.9"/>
<line x1="236.5" y1="208.2" x2="239.3" y2="208.2" stroke="#111" stroke-width="0.9"/>
<rect x="251.7" y="217.2" width="6.0" height="48.80000000000001" fill="#000" stroke="#000" stroke-width="1"/>
<rect x="258.65" y="254.14999999999998" width="5.900000000000011" height="11.850000000000012" fill="#fff" stroke="#111" stroke-width="0.9"/>
<line x1="254.7" y1="199.2" x2="254.7" y2="216.7" stroke="#111" stroke-width="0.9"/>
<line x1="253.29999999999998" y1="199.2" x2="256.09999999999997" y2="199.2" stroke="#111" stroke-width="0.9"/>
<line x1="261.6" y1="246.2" x2="261.6" y2="253.7" stroke="#111" stroke-width="0.9"/>
<line x1="260.20000000000005" y1="246.2" x2="263.0" y2="246.2" stroke="#111" stroke-width="0.9"/>
<rect x="275.1" y="251.2" width="6.099999999999966" height="14.800000000000011" fill="#000" stroke="#000" stroke-width="1"/>
<rect x="282.15" y="252.95" width="6.1" height="13.05" fill="#fff" stroke="#111" stroke-width="0.9"/>
<line x1="278.15" y1="245.5" x2="278.15" y2="250.7" stroke="#111" stroke-width="0.9"/>
<line x1="276.75" y1="245.5" x2="279.54999999999995" y2="245.5" stroke="#111" stroke-width="0.9"/>
<line x1="285.2" y1="245" x2="285.2" y2="252.5" stroke="#111" stroke-width="0.9"/>
<line x1="283.8" y1="245" x2="286.59999999999997" y2="245" stroke="#111" stroke-width="0.9"/>
<rect x="298.5" y="246.7" width="6" height="19.30000000000001" fill="#000" stroke="#000" stroke-width="1"/>
<rect x="305.45" y="253.45" width="6.1" height="12.55" fill="#fff" stroke="#111" stroke-width="0.9"/>
<line x1="301.5" y1="235" x2="301.5" y2="246.2" stroke="#111" stroke-width="0.9"/>
<line x1="300.1" y1="235" x2="302.9" y2="235" stroke="#111" stroke-width="0.9"/>
<line x1="308.5" y1="248.2" x2="308.5" y2="253" stroke="#111" stroke-width="0.9"/>
<line x1="307.1" y1="248.2" x2="309.9" y2="248.2" stroke="#111" stroke-width="0.9"/>
<polyline points="254.2,185.0 254.2,181.4 301.5,181.4 301.5,185.8" fill="none" stroke="#111" stroke-width="0.9"/>
<polyline points="254.2,191.4 254.2,187.6 278.5,187.6 278.5,191.4" fill="none" stroke="#111" stroke-width="0.9"/>
<polyline points="254.2,197.6 254.2,193.5 262.3,193.5 262.3,197.6" fill="none" stroke="#111" stroke-width="0.9"/>
<text x="278.1" y="183.5" font-size="7" text-anchor="middle" font-weight="normal" fill="#111" stroke="#111" stroke-width="0.3">***</text>
<text x="266.4" y="189.3" font-size="7" text-anchor="middle" font-weight="normal" fill="#111" stroke="#111" stroke-width="0.3">**</text>
<text x="258.3" y="194.6" font-size="7" text-anchor="middle" font-weight="normal" fill="#111" stroke="#111" stroke-width="0.3">*</text>
<text x="210.6" y="277.1" font-size="6.0" text-anchor="middle" font-weight="normal" fill="#111" stroke="#111" stroke-width="0.15">-</text>
<text x="210.6" y="287.3" font-size="6.0" text-anchor="middle" font-weight="normal" fill="#111" stroke="#111" stroke-width="0.15">-</text>
<text x="211.0" y="298.5" font-size="6.0" text-anchor="middle" font-weight="normal" fill="#111" stroke="#111" stroke-width="0.2">1</text>
<text x="234.7" y="276.6" font-size="4.8" text-anchor="middle" font-weight="normal" fill="#111" stroke="#111" stroke-width="0.3">+</text>
<text x="234.7" y="287.3" font-size="6.0" text-anchor="middle" font-weight="normal" fill="#111" stroke="#111" stroke-width="0.15">-</text>
<text x="235.1" y="298.5" font-size="6.0" text-anchor="middle" font-weight="normal" fill="#111" stroke="#111" stroke-width="0.2">2</text>
<text x="257.8" y="277.1" font-size="6.0" text-anchor="middle" font-weight="normal" fill="#111" stroke="#111" stroke-width="0.15">-</text>
<text x="257.8" y="286.8" font-size="4.8" text-anchor="middle" font-weight="normal" fill="#111" stroke="#111" stroke-width="0.3">+</text>
<text x="258.2" y="298.5" font-size="6.0" text-anchor="middle" font-weight="normal" fill="#111" stroke="#111" stroke-width="0.2">3</text>
<text x="281.4" y="277.1" font-size="6.0" text-anchor="middle" font-weight="normal" fill="#111" stroke="#111" stroke-width="0.15">-</text>
<text x="281.4" y="286.8" font-size="4.8" text-anchor="middle" font-weight="normal" fill="#111" stroke="#111" stroke-width="0.3">+</text>
<text x="281.79999999999995" y="298.5" font-size="6.0" text-anchor="middle" font-weight="normal" fill="#111" stroke="#111" stroke-width="0.2">4</text>
<text x="304.8" y="277.1" font-size="6.0" text-anchor="middle" font-weight="normal" fill="#111" stroke="#111" stroke-width="0.15">-</text>
<text x="304.8" y="286.8" font-size="4.8" text-anchor="middle" font-weight="normal" fill="#111" stroke="#111" stroke-width="0.3">+</text>
<text x="305.2" y="298.5" font-size="6.0" text-anchor="middle" font-weight="normal" fill="#111" stroke="#111" stroke-width="0.2">5</text>
<text x="323.8" y="278.1" font-size="5.8" text-anchor="start" font-weight="normal" fill="#111" stroke="#111" stroke-width="0.22" textLength="21.6" lengthAdjust="spacingAndGlyphs">CXCL12</text>
<text x="323.8" y="288.5" font-size="5.8" text-anchor="start" font-weight="normal" fill="#111" stroke="#111" stroke-width="0.22" textLength="17.9" lengthAdjust="spacingAndGlyphs">CCL20</text>
<text x="356.4" y="168.0" font-size="10.3" text-anchor="start" font-weight="bold" fill="#000" stroke="#000" stroke-width="0.2">F</text>
<line x1="382.2" y1="173.3" x2="477.5" y2="173.3" stroke="#5a5a5a" stroke-width="0.9"/>
<line x1="477.5" y1="173.3" x2="477.5" y2="269.4" stroke="#5a5a5a" stroke-width="0.9"/>
<line x1="382.2" y1="173.3" x2="382.2" y2="269.4" stroke="#5a5a5a" stroke-width="1.0"/>
<line x1="378.0" y1="269.4" x2="477.5" y2="269.4" stroke="#333" stroke-width="1.0"/>
<text x="376.0" y="271.59999999999997" font-size="6.1" text-anchor="end" font-weight="normal" fill="#111" stroke="#111" stroke-width="0.168" textLength="3.6" lengthAdjust="spacingAndGlyphs">0</text>
<line x1="378.0" y1="237.39999999999998" x2="382.2" y2="237.39999999999998" stroke="#444" stroke-width="0.9"/>
<text x="376.0" y="239.59999999999997" font-size="6.1" text-anchor="end" font-weight="normal" fill="#111" stroke="#111" stroke-width="0.168" textLength="7.3" lengthAdjust="spacingAndGlyphs">50</text>
<line x1="378.0" y1="205.39999999999998" x2="382.2" y2="205.39999999999998" stroke="#444" stroke-width="0.9"/>
<text x="376.0" y="207.59999999999997" font-size="6.1" text-anchor="end" font-weight="normal" fill="#111" stroke="#111" stroke-width="0.168" textLength="10.6" lengthAdjust="spacingAndGlyphs">100</text>
<line x1="378.0" y1="173.39999999999998" x2="382.2" y2="173.39999999999998" stroke="#444" stroke-width="0.9"/>
<text x="376.0" y="175.59999999999997" font-size="6.1" text-anchor="end" font-weight="normal" fill="#111" stroke="#111" stroke-width="0.168" textLength="10.6" lengthAdjust="spacingAndGlyphs">150</text>
<line x1="382.4" y1="269.4" x2="382.4" y2="274.0" stroke="#444" stroke-width="0.9"/>
<line x1="401.0" y1="269.4" x2="401.0" y2="274.0" stroke="#444" stroke-width="0.9"/>
<line x1="420.5" y1="269.4" x2="420.5" y2="274.0" stroke="#444" stroke-width="0.9"/>
<line x1="439.6" y1="269.4" x2="439.6" y2="274.0" stroke="#444" stroke-width="0.9"/>
<line x1="458.8" y1="269.4" x2="458.8" y2="274.0" stroke="#444" stroke-width="0.9"/>
<line x1="477.4" y1="269.4" x2="477.4" y2="274.0" stroke="#444" stroke-width="0.9"/>
<text x="362.4" y="220.9" font-size="6.4" text-anchor="middle" font-weight="normal" fill="#111" stroke="#111" stroke-width="0.05" textLength="60.6" lengthAdjust="spacingAndGlyphs" transform="rotate(-90 362.4 220.9)">adherent B cells [%]</text>
<rect x="386.7" y="254.9" width="9.699999999999989" height="14.499999999999972" fill="#000" stroke="#000" stroke-width="1"/>
<line x1="391.54999999999995" y1="244.4" x2="391.54999999999995" y2="254.4" stroke="#111" stroke-width="0.9"/>
<line x1="390.15" y1="244.4" x2="392.94999999999993" y2="244.4" stroke="#111" stroke-width="0.9"/>
<rect x="406.0" y="206.1" width="9.800000000000011" height="63.29999999999998" fill="#000" stroke="#000" stroke-width="1"/>
<rect x="424.8" y="248.5" width="10.199999999999989" height="20.899999999999977" fill="#000" stroke="#000" stroke-width="1"/>
<line x1="429.9" y1="243.7" x2="429.9" y2="248" stroke="#111" stroke-width="0.9"/>
<line x1="428.5" y1="243.7" x2="431.29999999999995" y2="243.7" stroke="#111" stroke-width="0.9"/>
<rect x="443.9" y="220.5" width="10.100000000000023" height="48.89999999999998" fill="#000" stroke="#000" stroke-width="1"/>
<line x1="448.95" y1="214.2" x2="448.95" y2="220" stroke="#111" stroke-width="0.9"/>
<line x1="447.55" y1="214.2" x2="450.34999999999997" y2="214.2" stroke="#111" stroke-width="0.9"/>
<rect x="463.1" y="223.0" width="10.199999999999989" height="46.39999999999998" fill="#000" stroke="#000" stroke-width="1"/>
<line x1="468.20000000000005" y1="215.5" x2="468.20000000000005" y2="222.5" stroke="#111" stroke-width="0.9"/>
<line x1="466.80000000000007" y1="215.5" x2="469.6" y2="215.5" stroke="#111" stroke-width="0.9"/>
<polyline points="410.2,184.8 410.2,181.0 467.8,181.0 467.8,184.8" fill="none" stroke="#111" stroke-width="1.0"/>
<polyline points="410.2,193.20000000000002 410.2,189.4 448.6,189.4 448.6,193.20000000000002" fill="none" stroke="#111" stroke-width="1.0"/>
<polyline points="410.2,202.29999999999998 410.2,198.7 429.5,198.7 429.5,202.29999999999998" fill="none" stroke="#111" stroke-width="1.0"/>
<text x="439.3" y="179.9" font-size="5.2" text-anchor="middle" font-weight="normal" fill="#111" stroke="#111" stroke-width="0.3">***</text>
<text x="429.5" y="188.4" font-size="5.2" text-anchor="middle" font-weight="normal" fill="#111" stroke="#111" stroke-width="0.3">**</text>
<text x="420" y="198.0" font-size="5.2" text-anchor="middle" font-weight="normal" fill="#111" stroke="#111" stroke-width="0.3">*</text>
<text x="390.4" y="281.1" font-size="6.0" text-anchor="middle" font-weight="normal" fill="#111" stroke="#111" stroke-width="0.15">-</text>
<text x="390.4" y="291.5" font-size="6.0" text-anchor="middle" font-weight="normal" fill="#111" stroke="#111" stroke-width="0.15">-</text>
<text x="390.4" y="302.1" font-size="6.0" text-anchor="middle" font-weight="normal" fill="#111" stroke="#111" stroke-width="0.15">-</text>
<text x="409.4" y="280.6" font-size="4.8" text-anchor="middle" font-weight="normal" fill="#111" stroke="#111" stroke-width="0.3">+</text>
<text x="409.4" y="291.5" font-size="6.0" text-anchor="middle" font-weight="normal" fill="#111" stroke="#111" stroke-width="0.15">-</text>
<text x="409.4" y="302.1" font-size="6.0" text-anchor="middle" font-weight="normal" fill="#111" stroke="#111" stroke-width="0.15">-</text>
<text x="428.3" y="280.6" font-size="4.8" text-anchor="middle" font-weight="normal" fill="#111" stroke="#111" stroke-width="0.3">+</text>
<text x="428.3" y="291.0" font-size="4.8" text-anchor="middle" font-weight="normal" fill="#111" stroke="#111" stroke-width="0.3">+</text>
<text x="428.3" y="302.1" font-size="6.0" text-anchor="middle" font-weight="normal" fill="#111" stroke="#111" stroke-width="0.15">-</text>
<text x="447.6" y="280.6" font-size="4.8" text-anchor="middle" font-weight="normal" fill="#111" stroke="#111" stroke-width="0.3">+</text>
<text x="447.6" y="291.5" font-size="6.0" text-anchor="middle" font-weight="normal" fill="#111" stroke="#111" stroke-width="0.15">-</text>
<text x="448.40000000000003" y="302.6" font-size="5.9" text-anchor="middle" font-weight="normal" fill="#111" stroke="#111" stroke-width="0.25">10</text>
<text x="466.8" y="280.6" font-size="4.8" text-anchor="middle" font-weight="normal" fill="#111" stroke="#111" stroke-width="0.3">+</text>
<text x="466.8" y="291.5" font-size="6.0" text-anchor="middle" font-weight="normal" fill="#111" stroke="#111" stroke-width="0.15">-</text>
<text x="467.6" y="302.6" font-size="5.9" text-anchor="middle" font-weight="normal" fill="#111" stroke="#111" stroke-width="0.25">1000</text>
<text x="479.3" y="282.0" font-size="6.0" text-anchor="start" font-weight="normal" fill="#111" stroke="#111" stroke-width="0.25" textLength="11.2" lengthAdjust="spacingAndGlyphs">TNF</text>
<text x="479.3" y="292.6" font-size="6.0" text-anchor="start" font-weight="normal" fill="#111" stroke="#111" stroke-width="0.25" textLength="11.5" lengthAdjust="spacingAndGlyphs">PTX</text>
<text x="479.3" y="302.6" font-size="6.0" text-anchor="start" font-weight="normal" fill="#111" stroke="#111" stroke-width="0.25" textLength="40" lengthAdjust="spacingAndGlyphs">CCL20 [ng/mL]</text>
</g></svg></body></html>
